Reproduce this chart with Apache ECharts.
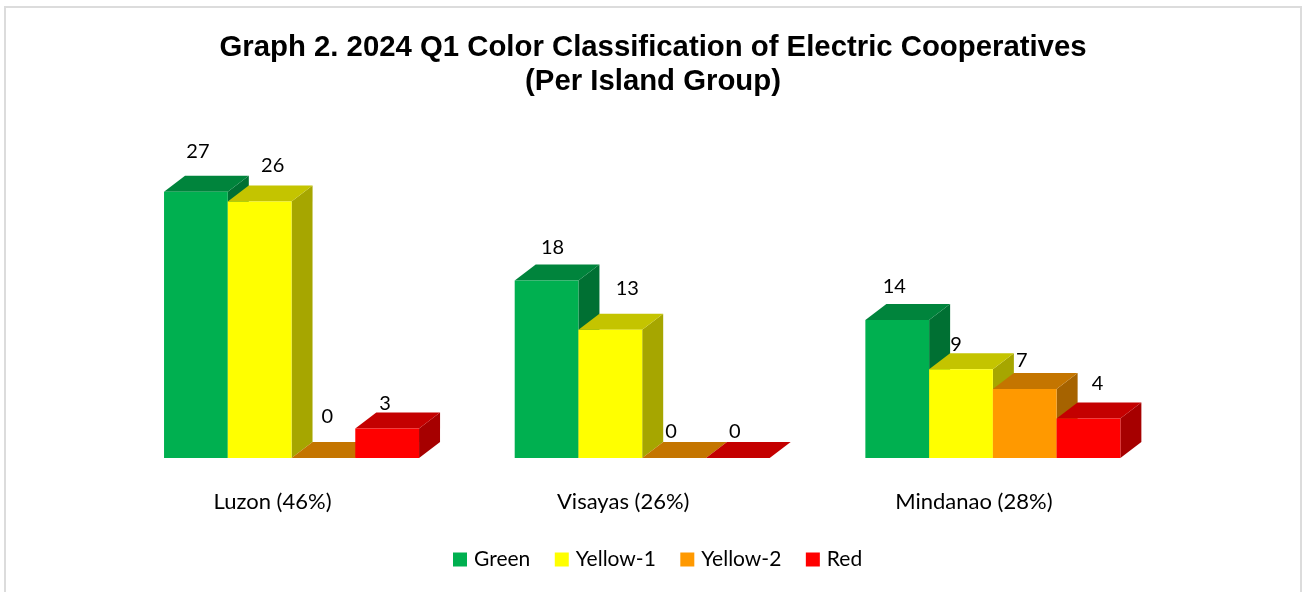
<!DOCTYPE html>
<html>
<head>
<meta charset="utf-8">
<title>Graph 2</title>
<script src="https://cdn.jsdelivr.net/npm/echarts@6/dist/echarts.min.js"></script>
<style>
  html, body { margin: 0; padding: 0; background: #fff; }
  #main { width: 1303px; height: 592px; }
</style>
</head>
<body>
<div id="main"></div>
<script>
  var categories = ['Luzon (46%)', 'Visayas (26%)', 'Mindanao (28%)'];
  var green = [27, 18, 14];
  var yellow1 = [26, 13, 9];
  var yellow2 = [0, 0, 7];
  var red = [3, 0, 4];

  // label nudges from the top-centre of each bar, the original labels were moved by hand
  var greenNudge = [[2, -40], [6, -33], [-3, -33]];
  var yellow1Nudge = [[13, -36], [17, -41], [-5, -25]];
  var yellow2Nudge = [[4, -41], [-3, -26], [-3, -28]];
  var redNudge = [[-2, -25], [-3, -26], [9, -35]];

  var barWidth = 63.75;
  var depthX = 21;
  var depthY = 16;

  function poly(points, color) {
    return { type: 'polygon', shape: { points: points }, style: { fill: color } };
  }

  function makeSeries(name, values, index, colors, nudge) {
    return {
      name: name,
      type: 'custom',
      data: values.map(function (v, i) { return [i, v]; }),
      itemStyle: { color: colors[0] },
      encode: { x: 0, y: 1 },
      clip: false,
      renderItem: function (params, api) {
        var base = api.coord([api.value(0), 0]);
        var top = api.coord([api.value(0), api.value(1)]);
        var x0 = base[0] - 2 * barWidth + index * barWidth;
        var x1 = x0 + barWidth;
        var y0 = base[1];
        var y1 = top[1];
        var n = nudge[params.dataIndex];
        return {
          type: 'group',
          children: [
            poly([[x1, y1], [x1 + depthX, y1 - depthY], [x1 + depthX, y0 - depthY], [x1, y0]], colors[2]),
            poly([[x0, y1], [x0 + depthX, y1 - depthY], [x1 + depthX, y1 - depthY], [x1, y1]], colors[1]),
            { type: 'rect', shape: { x: x0, y: y1, width: barWidth, height: y0 - y1 }, style: { fill: colors[0] } },
            {
              type: 'text',
              z2: 100,
              style: {
                text: String(api.value(1)),
                x: x0 + barWidth / 2 + n[0],
                y: y1 + n[1],
                align: 'center',
                verticalAlign: 'middle',
                fill: '#000',
                font: '20px Lato'
              }
            }
          ]
        };
      }
    };
  }

  var chart = echarts.init(document.getElementById('main'));
  chart.setOption({
    animation: false,
    backgroundColor: '#fff',
    title: {
      text: 'Graph 2. 2024 Q1 Color Classification of Electric Cooperatives\n(Per Island Group)',
      left: 648,
      top: 26,
      textAlign: 'center',
      textStyle: { fontFamily: 'Liberation Sans', fontWeight: 'bold', fontSize: 29.33, lineHeight: 34, color: '#000' }
    },
    legend: {
      left: 453,
      top: 549,
      padding: 0,
      icon: 'rect',
      itemWidth: 14,
      itemHeight: 14,
      itemGap: 24.5,
      textStyle: { fontFamily: 'Lato', fontSize: 21, color: '#000', padding: [0, 0, 0, 2] },
      data: ['Green', 'Yellow-1', 'Yellow-2', 'Red']
    },
    grid: { left: 116.2, width: 1052, top: 103, height: 355 },
    xAxis: {
      type: 'category',
      data: categories,
      axisLine: { show: false },
      axisTick: { show: false },
      axisLabel: {
        margin: 33,
        fontFamily: 'Lato',
        fontSize: 22,
        color: '#000',
        padding: [0, 38, 0, 0]
      }
    },
    yAxis: { type: 'value', min: 0, max: 36, show: false },
    graphic: [{
      type: 'rect',
      shape: { x: 5, y: 7, width: 1296, height: 600 },
      style: { fill: 'none', stroke: '#dcdcdc', lineWidth: 2 },
      silent: true
    }],
    series: [
      makeSeries('Green', green, 0, ['#00B050', '#00843C', '#007033'], greenNudge),
      makeSeries('Yellow-1', yellow1, 1, ['#FFFF00', '#C4C400', '#A6A600'], yellow1Nudge),
      makeSeries('Yellow-2', yellow2, 2, ['#FF9900', '#C47500', '#A66300'], yellow2Nudge),
      makeSeries('Red', red, 3, ['#FF0000', '#C40000', '#A60000'], redNudge)
    ]
  });
</script>
</body>
</html>
